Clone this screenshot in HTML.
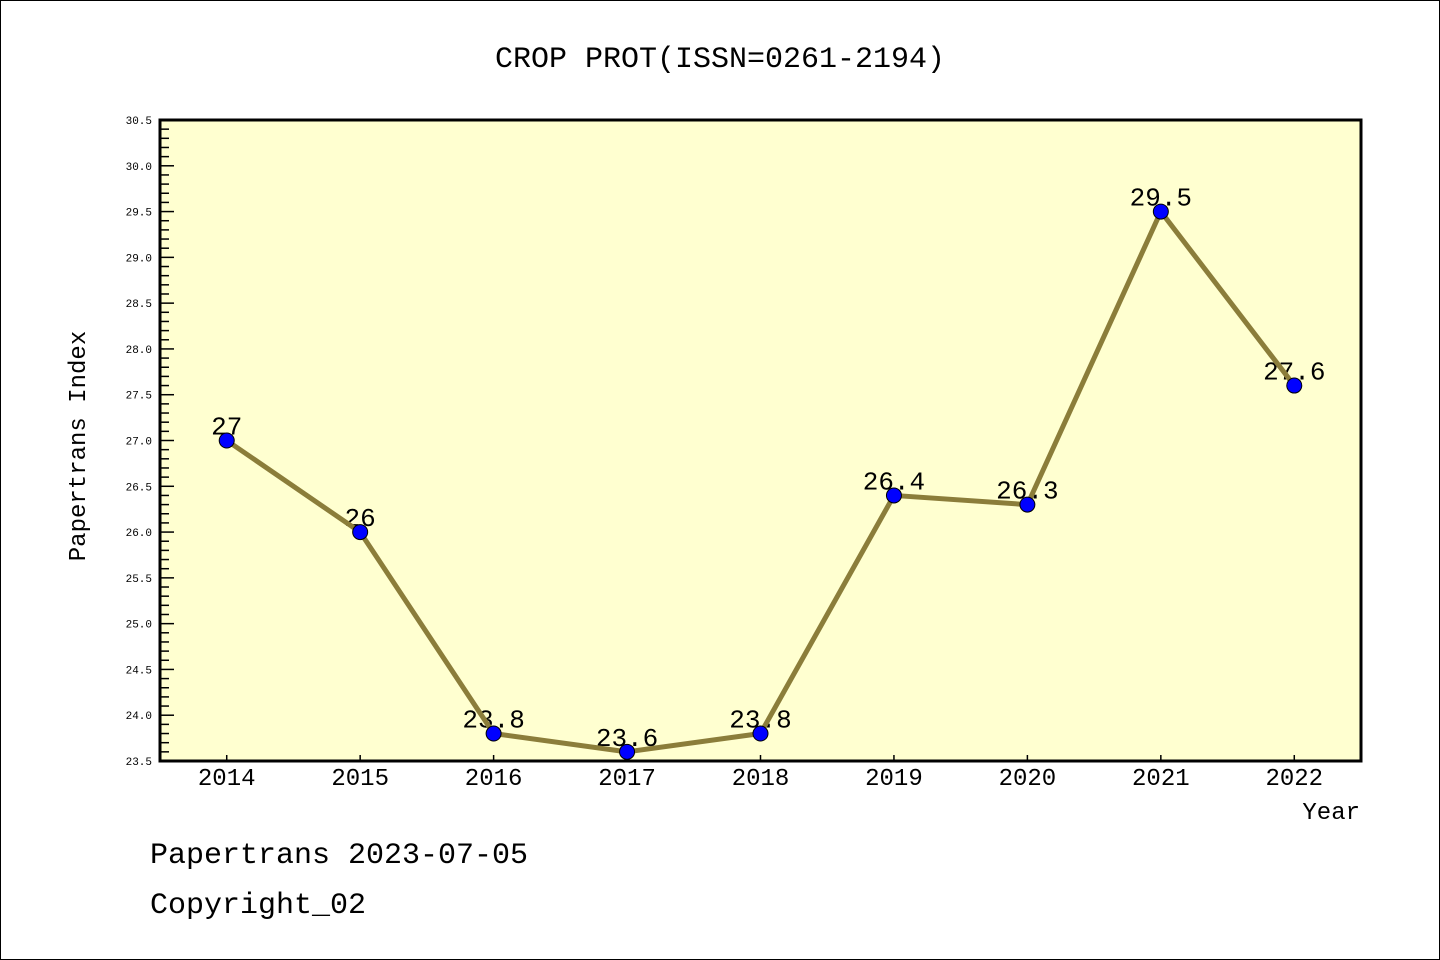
<!DOCTYPE html>
<html><head><meta charset="utf-8"><style>
html,body{margin:0;padding:0;background:#fff}
svg{display:block}
text{font-family:"Liberation Mono","DejaVu Sans Mono",monospace}
</style></head><body>
<svg id="chart" width="1440" height="960" xmlns="http://www.w3.org/2000/svg">
<rect x="0.5" y="0.5" width="1439" height="959" fill="#fff" stroke="#000" stroke-width="1"/>
<text x="720" y="67" font-size="30" text-anchor="middle">CROP PROT(ISSN=0261-2194)</text>
<rect x="160" y="120" width="1201" height="641" fill="#ffffd0"/>
<g id="yaxis"></g>
<g id="xaxis"></g>
<g id="labels"></g>
<g id="series"></g>
<rect x="160" y="120" width="1201" height="641" fill="none" stroke="#000" stroke-width="3"/>
<text transform="translate(85,446) rotate(-90)" font-size="24" text-anchor="middle">Papertrans Index</text>
<text x="1360" y="819" font-size="24" text-anchor="end">Year</text>
<text x="150" y="863" font-size="30">Papertrans 2023-07-05</text>
<text x="150" y="913" font-size="30">Copyright_02</text>
</svg>
<script>
const years = [2014,2015,2016,2017,2018,2019,2020,2021,2022];
const values = [27,26,23.8,23.6,23.8,26.4,26.3,29.5,27.6];
const valueLabels = ["27","26","23.8","23.6","23.8","26.4","26.3","29.5","27.6"];
const yTicks = ["23.5","24.0","24.5","25.0","25.5","26.0","26.5","27.0","27.5","28.0","28.5","29.0","29.5","30.0","30.5"];
const NS="http://www.w3.org/2000/svg";
const L=160,R=1361,T=120,B=761,yMin=23.5,yMax=30.5,xMin=2013.5,xMax=2022.5;
function sx(v){return L+(v-xMin)/(xMax-xMin)*(R-L);}
function sy(v){return B-(v-yMin)/(yMax-yMin)*(B-T);}
function mk(tag,attrs,parent){const e=document.createElementNS(NS,tag);for(const k in attrs)e.setAttribute(k,attrs[k]);parent.appendChild(e);return e;}
const ya=document.getElementById('yaxis'),xa=document.getElementById('xaxis'),lb=document.getElementById('labels'),se=document.getElementById('series');
for(let i=0;i<=Math.round((yMax-yMin)*10);i++){
  const v=yMin+i*0.1,y=sy(v),major=i%5===0;
  const t=mk('line',{x1:L,x2:L+(major?14:9),y1:y,y2:y,stroke:'#000','stroke-width':1.5},ya);
  
  
}
yTicks.forEach(s=>{
  const t=mk('text',{x:152,y:sy(parseFloat(s))+4,'font-size':11,'text-anchor':'end','font-family':'DejaVu Sans, sans-serif'},ya);
  t.textContent=s;
  
  
});
years.forEach(yr=>{
  const x=sx(yr);
  const t=mk('line',{x1:x,x2:x,y1:B,y2:B-6,stroke:'#000','stroke-width':1.5},xa);
  
  
  const l=mk('text',{x:x,y:785,'font-size':24,'text-anchor':'middle','font-family':'Liberation Sans, sans-serif'},xa);
  l.textContent=yr;
  
  
});
years.forEach((yr,i)=>{
  const t=mk('text',{x:sx(yr),y:sy(values[i])-6,'font-size':26,'text-anchor':'middle','font-family':'Liberation Sans, sans-serif'},lb);
  t.textContent=valueLabels[i];
  
  
});
const pts=years.map((yr,i)=>sx(yr)+','+sy(values[i])).join(' ');
const pl=mk('polyline',{points:pts,fill:'none',stroke:'#8b7d3a','stroke-width':5,'stroke-linejoin':'round'},se);


years.forEach((yr,i)=>{
  const c=mk('circle',{cx:sx(yr),cy:sy(values[i]),r:7.5,fill:'#0000ff',stroke:'#000','stroke-width':1},se);
  
  
});
</script>
</body></html>
